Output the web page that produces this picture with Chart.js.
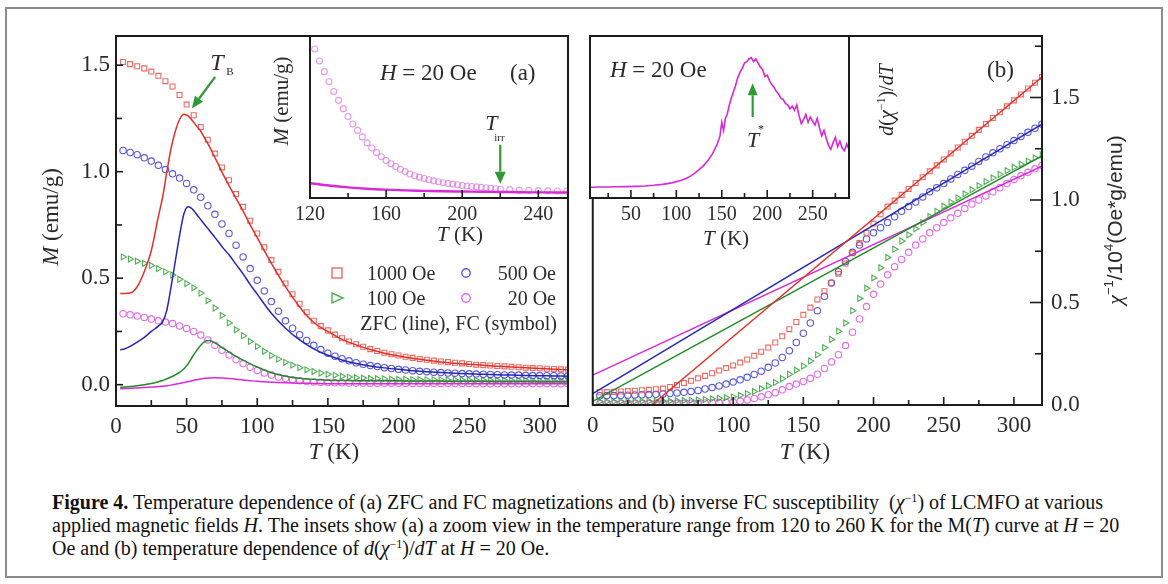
<!DOCTYPE html>
<html><head><meta charset="utf-8">
<script src="https://cdn.jsdelivr.net/npm/chart.js@4.4.1/dist/chart.umd.min.js"></script>
<style>
html,body{margin:0;padding:0;background:#fff;}
#wrap{position:relative;width:1168px;height:584px;overflow:hidden;background:#fff;}
#frame{position:absolute;left:5px;top:7px;width:1158px;height:571px;border:2px solid #8a8a8a;box-sizing:border-box;}
canvas{position:absolute;}
#cap{position:absolute;left:52px;top:491px;font-family:"Liberation Serif","Times New Roman",serif;font-size:20px;line-height:23px;color:#111;white-space:nowrap;}
#cap sup{font-size:12px;line-height:0;vertical-align:7px;}
</style></head>
<body><div id="wrap">
<div id="frame"></div>
<canvas id="cA" width="590" height="470" style="left:0;top:0"></canvas>
<canvas id="cB" width="588" height="470" style="left:580px;top:0"></canvas>
<canvas id="cIA" width="325" height="230" style="left:250px;top:20px"></canvas>
<canvas id="cIB" width="330" height="230" style="left:580px;top:20px"></canvas>
<div id="cap"><b>Figure 4.</b> Temperature dependence of (a) ZFC and FC magnetizations and (b) inverse FC susceptibility &nbsp;(<i>χ</i><sup>−1</sup>) of LCMFO at various<br>applied magnetic fields <i>H</i>. The insets show (a) a zoom view in the temperature range from 120 to 260 K for the M(<i>T</i>) curve at <i>H</i> = 20<br>Oe and (b) temperature dependence of <i>d</i>(<i>χ</i><sup>−1</sup>)/<i>dT</i> at <i>H</i> = 20 Oe.</div>
</div>
<script>
// ---------------- DATA ----------------
// Panel (a): FC magnetization M (emu/g) vs T (K)
const T_FC = [5,10,15,20,25,30,35,40,45,50,55,60,65,70,75,80,85,90,95,100,105,110,115,120,125,130,135,140,145,150,155,160,165,170,175,180,185,190,195,200,205,210,215,220,225,230,235,240,245,250,255,260,265,270,275,280,285,290,295,300,305,310,315,320];
const fcRed1000 = [1.515,1.505,1.495,1.485,1.47,1.45,1.425,1.40,1.36,1.315,1.265,1.21,1.15,1.085,1.02,0.96,0.895,0.835,0.77,0.71,0.645,0.585,0.53,0.475,0.425,0.38,0.34,0.30,0.275,0.255,0.235,0.218,0.203,0.19,0.178,0.167,0.158,0.15,0.143,0.137,0.131,0.126,0.121,0.117,0.113,0.109,0.106,0.103,0.1,0.097,0.094,0.092,0.09,0.088,0.086,0.084,0.082,0.08,0.078,0.077,0.075,0.074,0.072,0.071];
const fcBlue500 = [1.100,1.090,1.080,1.065,1.050,1.030,1.010,0.990,0.970,0.945,0.915,0.880,0.840,0.800,0.755,0.710,0.655,0.600,0.545,0.490,0.440,0.390,0.345,0.300,0.265,0.235,0.208,0.185,0.165,0.148,0.134,0.122,0.112,0.103,0.096,0.090,0.085,0.080,0.076,0.072,0.069,0.066,0.063,0.061,0.059,0.057,0.055,0.054,0.052,0.051,0.050,0.049,0.048,0.047,0.046,0.045,0.045,0.044,0.043,0.043,0.042,0.042,0.041,0.041];
const fcGreen100 = [0.600,0.590,0.580,0.570,0.560,0.545,0.530,0.515,0.495,0.475,0.455,0.430,0.395,0.360,0.325,0.290,0.258,0.230,0.203,0.180,0.157,0.137,0.120,0.105,0.092,0.080,0.070,0.062,0.055,0.049,0.044,0.040,0.036,0.033,0.031,0.029,0.028,0.027,0.026,0.025,0.025,0.024,0.024,0.023,0.023,0.023,0.022,0.022,0.022,0.021,0.021,0.021,0.021,0.020,0.020,0.020,0.020,0.020,0.019,0.019,0.019,0.019,0.019,0.019];
const fcMag20 = [0.333,0.328,0.322,0.316,0.308,0.300,0.294,0.287,0.276,0.264,0.250,0.233,0.210,0.185,0.162,0.139,0.118,0.099,0.082,0.067,0.055,0.045,0.036,0.029,0.023,0.019,0.015,0.013,0.011,0.010,0.009,0.009,0.008,0.008,0.008,0.007,0.007,0.007,0.007,0.007,0.006,0.006,0.006,0.006,0.006,0.006,0.006,0.006,0.006,0.006,0.005,0.005,0.005,0.005,0.005,0.005,0.005,0.005,0.005,0.005,0.005,0.005,0.005,0.005];

// Panel (a): ZFC magnetization (lines)
const T_ZFC = [3,6,10,15,20,25,30,33,36,39,42,45,48,51,54,57,60,63,66,69,72,76,80,85,90,95,100,110,120,130,140,150,160,170,180,190,200,210,220,230,240,250,260,270,280,290,300,310,320];
const zfcRed1000 = [0.428,0.428,0.430,0.460,0.530,0.630,0.790,0.880,1.000,1.110,1.190,1.245,1.270,1.262,1.240,1.215,1.190,1.155,1.120,1.080,1.040,0.985,0.935,0.875,0.815,0.750,0.690,0.570,0.460,0.365,0.292,0.250,0.213,0.187,0.165,0.148,0.135,0.124,0.115,0.107,0.101,0.096,0.091,0.087,0.083,0.079,0.076,0.073,0.070];
const zfcBlue500 = [0.164,0.168,0.180,0.200,0.222,0.250,0.275,0.295,0.350,0.460,0.580,0.700,0.800,0.835,0.825,0.800,0.775,0.750,0.725,0.700,0.675,0.640,0.610,0.565,0.520,0.470,0.425,0.335,0.265,0.210,0.168,0.138,0.116,0.100,0.088,0.079,0.072,0.066,0.061,0.057,0.054,0.051,0.049,0.047,0.045,0.043,0.042,0.041,0.040];
const zfcGreen100 = [-0.012,-0.011,-0.009,-0.005,0.000,0.006,0.014,0.020,0.028,0.036,0.046,0.058,0.074,0.098,0.130,0.160,0.185,0.203,0.207,0.200,0.188,0.170,0.153,0.133,0.115,0.098,0.083,0.056,0.040,0.030,0.025,0.021,0.020,0.019,0.019,0.018,0.018,0.017,0.017,0.017,0.016,0.016,0.016,0.015,0.015,0.015,0.014,0.014,0.014];
const zfcMag20 = [-0.019,-0.018,-0.017,-0.015,-0.013,-0.011,-0.009,-0.007,-0.005,-0.002,0.002,0.006,0.010,0.014,0.019,0.023,0.027,0.030,0.032,0.033,0.032,0.031,0.029,0.026,0.022,0.019,0.016,0.012,0.009,0.007,0.006,0.005,0.005,0.005,0.005,0.005,0.005,0.005,0.005,0.005,0.004,0.004,0.004,0.004,0.004,0.004,0.004,0.004,0.004];

// Panel (b): inverse FC susceptibility chi^-1 / 10^4 (Oe*g/emu)
const invRed1000 = [0.062,0.063,0.064,0.066,0.068,0.070,0.072,0.074,0.077,0.080,0.088,0.097,0.107,0.118,0.130,0.142,0.155,0.168,0.180,0.193,0.207,0.222,0.240,0.260,0.280,0.305,0.335,0.370,0.405,0.440,0.475,0.515,0.555,0.595,0.640,0.690,0.740,0.790,0.840,0.885,0.930,0.968,0.997,1.025,1.054,1.083,1.111,1.140,1.169,1.198,1.227,1.256,1.284,1.313,1.342,1.371,1.400,1.428,1.457,1.486,1.515,1.544,1.572,1.600];
const invBlue500 = [0.045,0.046,0.046,0.047,0.048,0.049,0.050,0.051,0.052,0.054,0.056,0.059,0.062,0.066,0.071,0.078,0.085,0.093,0.102,0.112,0.123,0.135,0.149,0.165,0.184,0.205,0.232,0.265,0.305,0.350,0.400,0.460,0.530,0.595,0.650,0.700,0.745,0.780,0.810,0.840,0.865,0.890,0.918,0.945,0.968,0.990,1.015,1.040,1.060,1.080,1.103,1.125,1.145,1.165,1.188,1.210,1.230,1.250,1.270,1.290,1.310,1.330,1.350,1.370];
const invGreen100 = [0.017,0.017,0.017,0.018,0.018,0.018,0.019,0.019,0.019,0.020,0.020,0.021,0.022,0.023,0.025,0.027,0.030,0.033,0.036,0.040,0.047,0.055,0.066,0.080,0.094,0.110,0.128,0.150,0.170,0.190,0.215,0.245,0.280,0.320,0.360,0.400,0.460,0.520,0.570,0.620,0.670,0.720,0.760,0.800,0.830,0.860,0.890,0.920,0.945,0.970,0.990,1.010,1.030,1.050,1.070,1.090,1.108,1.125,1.143,1.160,1.175,1.190,1.205,1.220];
const invMag20 = [0.006,0.006,0.006,0.006,0.006,0.007,0.007,0.007,0.007,0.007,0.008,0.008,0.008,0.009,0.009,0.010,0.011,0.012,0.013,0.015,0.019,0.025,0.032,0.040,0.050,0.060,0.074,0.090,0.102,0.115,0.130,0.150,0.178,0.210,0.245,0.290,0.355,0.420,0.480,0.540,0.590,0.635,0.675,0.710,0.745,0.780,0.810,0.840,0.865,0.890,0.913,0.935,0.958,0.980,1.000,1.020,1.040,1.060,1.080,1.100,1.118,1.135,1.152,1.170];
// Panel (b): linear fits (lines)
const fitRedT = [42,320],  fitRedV = [0,1.60];
const fitT = [0,320];
const fitBlueV = [0.055,1.37], fitGreenV = [0.018,1.215], fitMagV = [0.146,1.165];

// Inset (a): M (10^-3 emu/g) at H = 20 Oe
const T_insA_FC = [122.5,125,127.5,130,132.5,135,137.5,140,142.5,145,147.5,150,152.5,155,157.5,160,162.5,165,167.5,170,172.5,175,177.5,180,182.5,185,187.5,190,192.5,195,197.5,200,202.5,205,207.5,210,212.5,215,217.5,220,225,230,235,240,245,250,255];
const insA_FC = [32.2,29.6,27.3,25.1,23.0,21.1,19.3,17.6,16.0,14.6,13.2,11.9,10.8,9.8,8.9,8.1,7.4,6.8,6.2,5.7,5.2,4.8,4.5,4.2,3.95,3.7,3.5,3.3,3.15,3.0,2.85,2.7,2.6,2.5,2.4,2.3,2.2,2.1,2.0,1.9,1.8,1.7,1.65,1.6,1.55,1.5,1.5];
const T_insA_ZFC = [120,130,140,150,160,170,180,190,200,210,220,230,240,250,256];
const insA_ZFC = [3.2,2.7,2.3,2.0,1.8,1.65,1.55,1.45,1.4,1.35,1.3,1.25,1.22,1.2,1.2];

// Inset (b): d(chi^-1)/dT (arb. units) at H = 20 Oe
const T_insB = [5,15,25,35,45,55,65,75,85,95,105,110,115,120,125,130,135,140,145,148,150,152,154,156,158,160,162.5,165,167.5,170,172.5,175,177.5,180,182.5,185,187.5,190,192.5,195,197.5,200,202.5,205,207.5,210,212.5,215,217.5,220,222.5,225,227.5,230,232.5,235,237.5,240,242.5,245,247.5,250,252.5,255,257.5,260,262.5,265,267.5,270,272.5,275,277.5,280,282.5,285,287.5,290];
const insB_dchi = [0.80,0.81,0.82,0.83,0.84,0.86,0.89,0.94,1.01,1.12,1.30,1.43,1.60,1.82,2.10,2.40,2.80,3.30,4.00,4.60,5.60,5.00,5.90,6.20,6.80,7.30,7.80,8.30,8.90,9.30,9.60,10.00,10.10,10.30,10.40,10.10,10.30,10.00,9.70,9.50,9.00,9.10,8.70,8.40,8.20,7.90,7.70,7.40,7.30,7.00,6.90,6.60,6.80,6.50,6.90,6.10,5.50,5.80,6.20,5.60,6.00,5.70,5.40,5.90,5.20,4.60,5.00,4.40,3.90,3.60,4.10,4.50,3.80,4.20,3.70,3.50,4.00,3.60];

// Tick values
const xTicksMain = [0,50,100,150,200,250,300], xMinorMain = [25,75,125,175,225,275];
const yTicksMain = [0,0.5,1.0,1.5], yMinorA = [0.25,0.75,1.25], yMinorB = [0.25,0.75,1.25,1.75];
const xTicksInsA = [120,160,200,240], xMinorInsA = [140,180,220];
const xTicksInsB = [50,100,150,200,250], xMinorInsB = [25,75,125,175,225,275];

// Annotation anchors (data coordinates)
const TB_label = [66.7,1.477], TB_arrow = [70.2,1.445,53.7,1.297];
const Tirr_label = [212.1,14.7], Tirr_arrow = [220,11.5,220,3.1];
const Tstar_label = [177.7,3.76], Tstar_arrow = [184,6.0,184,8.5];

// ---------------- STYLE / HELPERS ----------------
const SERIF = '"Liberation Serif","Times New Roman",serif';
const SANS = '"Liberation Sans",Arial,sans-serif';
const TXT = '#2b2b2b', AXIS = '#1c1c1c', ARROW = '#2f9a35';
const RED_L='#e2302a', RED_S='rgba(232,80,72,0.85)';
const BLUE_L='#2626b4', BLUE_S='rgba(60,60,210,0.85)';
const GREEN_L='#23892a', GREEN_S='rgba(50,160,55,0.85)';
const MAG_L='#d828d8', MAG_S='rgba(225,80,225,0.85)';
const F=(st,sz,fam)=>(st?st+' ':'')+sz+'px '+(fam||SERIF);
Chart.defaults.font.family = SERIF;

function pts(xs,ys){return xs.map((x,i)=>({x:x,y:ys[i]}));}
function sym(xs,ys,col,style,r,rot){return {data:pts(xs,ys),showLine:false,pointStyle:style,pointRadius:r,pointHoverRadius:r,pointRotation:rot||0,borderColor:col,pointBorderColor:col,backgroundColor:'rgba(0,0,0,0)',pointBackgroundColor:'rgba(0,0,0,0)',borderWidth:1.1,pointBorderWidth:1.1};}
function line(xs,ys,col,w,straight){return {data:pts(xs,ys),showLine:true,pointRadius:0,pointHoverRadius:0,borderColor:col,borderWidth:w,fill:false,cubicInterpolationMode:straight?'default':'monotone',tension:0};}

function xAx(min,max,ticks,size,pad,h){return {type:'linear',position:'bottom',min:min,max:max,
  grid:{display:false,drawTicks:false},border:{display:false},
  ticks:{font:{family:SERIF,size:size},color:TXT,padding:pad,maxRotation:0,autoSkip:false,callback:v=>String(v)},
  afterBuildTicks:s=>{s.ticks=ticks.map(v=>({value:v}));},afterFit:s=>{s.height=h;}};}
function yAx(min,max,ticks,size,pad,w,pos){const o={type:'linear',position:pos||'left',min:min,max:max,
  grid:{display:false,drawTicks:false},border:{display:false},
  ticks:{display:!!ticks,font:{family:SERIF,size:size},color:TXT,padding:pad,callback:v=>Number(v).toFixed(1)},
  afterBuildTicks:s=>{s.ticks=(ticks||[]).map(v=>({value:v}));}};
  if(ticks){o.afterFit=s=>{s.width=w;};} else {o.display=false;}
  return o;}

function txt(c,x,y,parts,opt){opt=opt||{};c.save();c.translate(x,y);if(opt.rot)c.rotate(opt.rot);
  let w=0;parts.forEach(p=>{c.font=p[1];w+=c.measureText(p[0]).width;});
  let cx=opt.align==='left'?0:opt.align==='right'?-w:-w/2;
  c.textBaseline='alphabetic';c.textAlign='left';c.fillStyle=opt.color||TXT;
  parts.forEach(p=>{c.font=p[1];c.fillText(p[0],cx,p[2]||0);cx+=c.measureText(p[0]).width;});
  c.restore();}
function arrow(c,x1,y1,x2,y2,hl,hw){const a=Math.atan2(y2-y1,x2-x1);const bx=x2-hl*Math.cos(a),by=y2-hl*Math.sin(a);
  c.save();c.strokeStyle=ARROW;c.fillStyle=ARROW;c.lineWidth=2.2;c.beginPath();c.moveTo(x1,y1);c.lineTo(bx,by);c.stroke();
  c.beginPath();c.moveTo(x2,y2);c.lineTo(bx+hw/2*Math.sin(a),by-hw/2*Math.cos(a));c.lineTo(bx-hw/2*Math.sin(a),by+hw/2*Math.cos(a));c.closePath();c.fill();c.restore();}

function deco(cfg){return {id:'deco',
  beforeDraw(chart){if(cfg.white){const a=chart.chartArea,c=chart.ctx;c.save();c.fillStyle='#fff';c.fillRect(a.left,a.top,a.right-a.left,a.bottom-a.top);c.restore();}},
  afterDraw(chart){const c=chart.ctx,a=chart.chartArea,xs=chart.scales.x,ys=chart.scales.y;c.save();
    c.strokeStyle=AXIS;c.lineWidth=1.6;
    const tk=cfg.ticks;
    if(tk.x){const dx=(v,L)=>{const p=xs.getPixelForValue(v);if(p<a.left-0.5||p>a.right+0.5)return;c.beginPath();c.moveTo(p,a.bottom);c.lineTo(p,a.bottom-L);c.stroke();};
      tk.x.major.forEach(v=>dx(v,tk.x.len[0]));tk.x.minor.forEach(v=>dx(v,tk.x.len[1]));}
    if(tk.y){const dy=(v,L)=>{const p=ys.getPixelForValue(v);if(p<a.top-0.5||p>a.bottom+0.5)return;c.beginPath();
        if(tk.y.side==='right'){c.moveTo(a.right,p);c.lineTo(a.right-L,p);}else{c.moveTo(a.left,p);c.lineTo(a.left+L,p);}c.stroke();};
      tk.y.major.forEach(v=>dy(v,tk.y.len[0]));tk.y.minor.forEach(v=>dy(v,tk.y.len[1]));}
    c.lineWidth=2;c.strokeRect(a.left,a.top,a.right-a.left,a.bottom-a.top);
    if(cfg.extra)cfg.extra(chart,c,a,xs,ys);
    c.restore();}};}

const baseOpts=(pad,scales)=>({responsive:false,animation:false,events:[],devicePixelRatio:1,
  layout:{padding:pad},plugins:{legend:{display:false},tooltip:{enabled:false},title:{display:false}},scales:scales});

// ---------------- PANEL (a) ----------------
new Chart(document.getElementById('cA'),{type:'scatter',
  data:{datasets:[
    line(T_ZFC,zfcRed1000,RED_L,1.5),line(T_ZFC,zfcBlue500,BLUE_L,1.5),line(T_ZFC,zfcGreen100,GREEN_L,1.5),line(T_ZFC,zfcMag20,MAG_L,1.5),
    sym(T_FC,fcRed1000,RED_S,'rect',3.5),sym(T_FC,fcBlue500,BLUE_S,'circle',3.2),sym(T_FC,fcGreen100,GREEN_S,'triangle',3.4,90),sym(T_FC,fcMag20,MAG_S,'circle',3.2)]},
  options:baseOpts({left:0,right:22,top:36,bottom:0},{x:xAx(0,320,xTicksMain,23,7,64),y:yAx(-0.1,1.637,yTicksMain,23,6,116,'left')}),
  plugins:[deco({ticks:{x:{major:xTicksMain,minor:xMinorMain,len:[8,6]},y:{major:yTicksMain,minor:yMinorA,len:[7,6],side:'left'}},
    extra:(ch,c,a,xs,ys)=>{
      txt(c,58,217,[['M',F('italic',23)],[' (emu/g)',F('',23)]],{rot:-Math.PI/2});
      txt(c,334,459,[['T',F('italic',23)],[' (K)',F('',23)]]);
      const lx=xs.getPixelForValue(TB_label[0]),ly=ys.getPixelForValue(TB_label[1]);
      txt(c,lx,ly,[['T',F('italic',24)]],{align:'left'});txt(c,lx+16,ly+5,[['B',F('',11)]],{align:'left'});
      arrow(c,xs.getPixelForValue(TB_arrow[0]),ys.getPixelForValue(TB_arrow[1]),xs.getPixelForValue(TB_arrow[2]),ys.getPixelForValue(TB_arrow[3]),12,10);
      // legend
      c.lineWidth=1.4;
      c.strokeStyle=RED_S;c.strokeRect(332,268,10,10);
      c.strokeStyle=BLUE_S;c.beginPath();c.arc(466,273,4.2,0,Math.PI*2);c.stroke();
      c.strokeStyle=GREEN_S;c.beginPath();c.moveTo(332,293);c.lineTo(343,298);c.lineTo(332,303);c.closePath();c.stroke();
      c.strokeStyle=MAG_S;c.beginPath();c.arc(466,298,4.2,0,Math.PI*2);c.stroke();
      txt(c,367,280,[['1000 Oe',F('',20)]],{align:'left'});
      txt(c,556,280,[['500 Oe',F('',20)]],{align:'right'});
      txt(c,367,305,[['100 Oe',F('',20)]],{align:'left'});
      txt(c,556,305,[['20 Oe',F('',20)]],{align:'right'});
      txt(c,557,330,[['ZFC (line), FC (symbol)',F('',20)]],{align:'right'});
    }})]});

// ---------------- PANEL (b) ----------------
new Chart(document.getElementById('cB'),{type:'scatter',
  data:{datasets:[
    line(fitRedT,fitRedV,RED_L,1.4,true),line(fitT,fitBlueV,BLUE_L,1.4,true),line(fitT,fitGreenV,GREEN_L,1.4,true),line(fitT,fitMagV,MAG_L,1.4,true),
    sym(T_FC,invRed1000,RED_S,'rect',3.5),sym(T_FC,invBlue500,BLUE_S,'circle',3.2),sym(T_FC,invGreen100,GREEN_S,'triangle',3.4,90),sym(T_FC,invMag20,MAG_S,'circle',3.2)]},
  options:baseOpts({left:10,right:0,top:36,bottom:0},{x:xAx(0,320,xTicksMain,23,7,65),y:yAx(0,1.8,yTicksMain,23,9,126,'right')}),
  plugins:[deco({ticks:{x:{major:xTicksMain,minor:xMinorMain,len:[8,5]},y:{major:yTicksMain,minor:yMinorB,len:[12,7],side:'right'}},
    extra:(ch,c,a,xs,ys)=>{
      txt(c,225,459,[['T',F('italic',23)],[' (K)',F('',23)]]);
      txt(c,407,77,[['(b)',F('',23)]],{align:'left'});
      txt(c,542,220,[['χ',F('italic',22)],['−1',F('',13,SANS),-9],['/10',F('',21,SANS)],['4',F('',13,SANS),-9],['(Oe*g/emu)',F('',21,SANS)]],{rot:-Math.PI/2});
    }})]});

// ---------------- INSET (a) ----------------
new Chart(document.getElementById('cIA'),{type:'scatter',
  data:{datasets:[line(T_insA_ZFC,insA_ZFC,MAG_L,2.4),sym(T_insA_FC,insA_FC,'rgba(220,120,220,0.75)','circle',3)]},
  options:baseOpts({left:60,right:7,top:16,bottom:0},{x:xAx(120,255.6,xTicksInsA,20,5,52),y:yAx(0,35,null)}),
  plugins:[deco({white:true,ticks:{x:{major:xTicksInsA,minor:xMinorInsA,len:[8,5]}},
    extra:(ch,c,a,xs,ys)=>{
      txt(c,130,60,[['H',F('italic',23)],[' = 20 Oe',F('',23)]],{align:'left'});
      txt(c,260,60,[['(a)',F('',23)]],{align:'left'});
      txt(c,38,81,[['M',F('italic',21)],[' (emu/g)',F('',21)]],{rot:-Math.PI/2});
      txt(c,210,221,[['T',F('italic',21)],[' (K)',F('',21)]]);
      const lx=xs.getPixelForValue(Tirr_label[0]),ly=ys.getPixelForValue(Tirr_label[1]);
      txt(c,lx,ly,[['T',F('italic',22)]],{align:'left'});txt(c,lx+9,ly+11,[['irr',F('',11)]],{align:'left'});
      arrow(c,xs.getPixelForValue(Tirr_arrow[0]),ys.getPixelForValue(Tirr_arrow[1]),xs.getPixelForValue(Tirr_arrow[2]),ys.getPixelForValue(Tirr_arrow[3]),12,11);
    }})]});

// ---------------- INSET (b) ----------------
new Chart(document.getElementById('cIB'),{type:'scatter',
  data:{datasets:[line(T_insB,insB_dchi,MAG_L,1.6,true)]},
  options:baseOpts({left:10,right:61,top:16,bottom:0},{x:xAx(5,290,xTicksInsB,20,5,52),y:yAx(0,12,null)}),
  plugins:[deco({white:true,ticks:{x:{major:xTicksInsB,minor:xMinorInsB,len:[8,5]}},
    extra:(ch,c,a,xs,ys)=>{
      txt(c,30,57,[['H',F('italic',23)],[' = 20 Oe',F('',23)]],{align:'left'});
      txt(c,313,80,[['d',F('italic',20)],['(',F('',20)],['χ',F('italic',20)],['−1',F('',12),-8],[')/',F('',20)],['dT',F('italic',20)]],{rot:-Math.PI/2});
      txt(c,146,225,[['T',F('italic',21)],[' (K)',F('',21)]]);
      const lx=xs.getPixelForValue(Tstar_label[0]),ly=ys.getPixelForValue(Tstar_label[1]);
      txt(c,lx,ly,[['T',F('italic',22)]],{align:'left'});txt(c,lx+11,ly-14,[['*',F('',12)]],{align:'left'});
      arrow(c,xs.getPixelForValue(Tstar_arrow[0]),ys.getPixelForValue(Tstar_arrow[1]),xs.getPixelForValue(Tstar_arrow[2]),ys.getPixelForValue(Tstar_arrow[3]),12,10);
    }})]});
</script>
</body></html>
